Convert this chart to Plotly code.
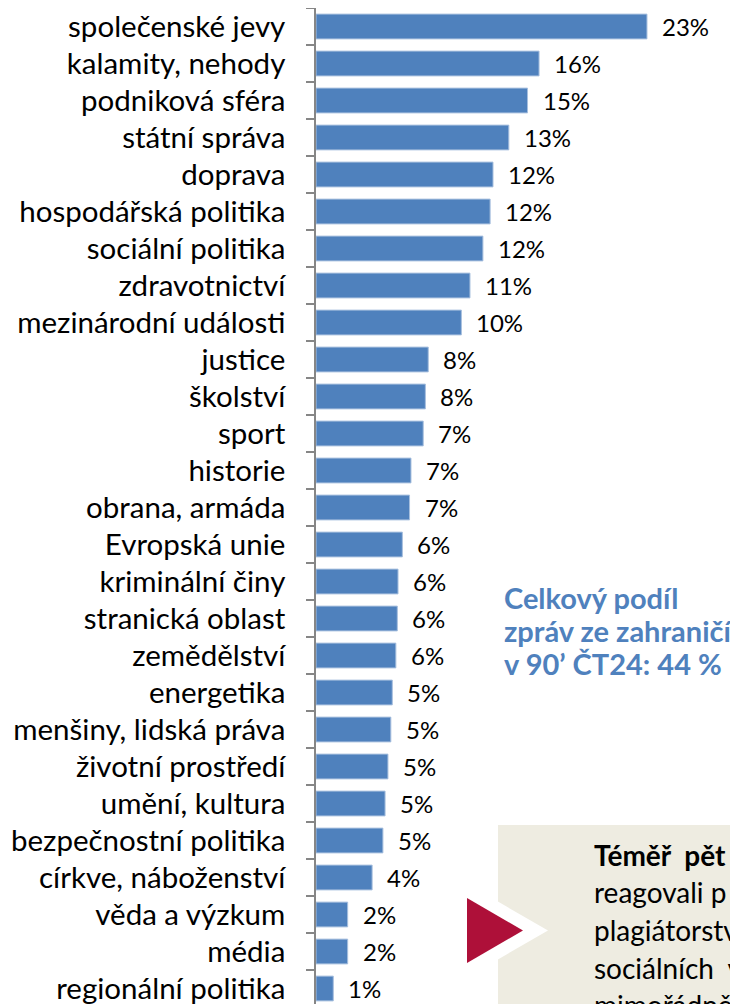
import plotly.graph_objects as go

categories = [
    "společenské jevy", "kalamity, nehody", "podniková sféra", "státní správa",
    "doprava", "hospodářská politika", "sociální politika", "zdravotnictví",
    "mezinárodní události", "justice", "školství", "sport", "historie",
    "obrana, armáda", "Evropská unie", "kriminální činy", "stranická oblast",
    "zemědělství", "energetika", "menšiny, lidská práva", "životní prostředí",
    "umění, kultura", "bezpečnostní politika", "církve, náboženství",
    "věda a výzkum", "média", "regionální politika",
]
values = [23.0, 15.5, 14.7, 13.4, 12.3, 12.1, 11.6, 10.7, 10.1, 7.8, 7.6, 7.45,
          6.6, 6.5, 6.0, 5.7, 5.65, 5.55, 5.3, 5.2, 5.0, 4.8, 4.65, 3.9,
          2.2, 2.2, 1.2]
labels = ["23%", "16%", "15%", "13%", "12%", "12%", "12%", "11%", "10%", "8%",
          "8%", "7%", "7%", "7%", "6%", "6%", "6%", "6%", "5%", "5%", "5%",
          "5%", "5%", "4%", "2%", "2%", "1%"]

# page has an 8px body margin, so the figure is 8px smaller than the window
OFF = 8
W, H = 738 - OFF, 1004 - OFF
ML, MT = 316 - OFF, 8 - OFF
PW, PH = W - ML, H - MT

def px(x):  # window pixel -> paper
    return (x - OFF - ML) / PW

def py(y):
    return (H - (y - OFF)) / PH

FONT = "Lato, Carlito, 'Open Sans', sans-serif"
BLUE = "#4F81BD"

fig = go.Figure()
fig.add_trace(go.Bar(
    x=values, y=categories, orientation="h",
    marker=dict(color=BLUE, line=dict(color="#A7BFDE", width=1)),
    hoverinfo="skip",
))

annotations = []
for c, v, t in zip(categories, values, labels):
    annotations.append(dict(
        x=v, y=c, xref="x", yref="y", text=t, showarrow=False,
        xanchor="left", yanchor="middle", xshift=13,
        font=dict(family=FONT, size=24, color="#000000"),
    ))

# blue side note
note_lines = ["<b>Celkový podíl</b>", "<b>zpráv ze zahraničí</b>", "<b>v 90’ ČT24: 44 %</b>"]
for i, t in enumerate(note_lines):
    annotations.append(dict(
        x=px(502), y=py(597 + i * 33), xref="paper", yref="paper",
        xanchor="left", yanchor="middle", showarrow=False, text=t,
        font=dict(family=FONT, size=29, color=BLUE),
    ))

# text inside beige box (cut off by the page edge)
box_lines = ["<b>Téměř  pět</b>", "reagovali p", "plagiátorstv", "sociálních  v", "mimořádně"]
for i, t in enumerate(box_lines):
    annotations.append(dict(
        x=px(592), y=py(855 + i * 37.5), xref="paper", yref="paper",
        xanchor="left", yanchor="middle", showarrow=False, text=t,
        font=dict(family=FONT, size=28, color="#000000"),
    ))

def path(points):
    return "M " + " L ".join(f"{px(a)},{py(b)}" for a, b in points) + " Z"

shapes = [
    dict(type="rect", xref="paper", yref="paper", x0=px(498), x1=px(760),
         y0=py(825), y1=py(1010), fillcolor="#EEECE1", line=dict(width=0), layer="above"),
    dict(type="path", xref="paper", yref="paper",
         path=path([(455, 930.5 - 53.7), (548, 930.5), (455, 930.5 + 53.7)]),
         fillcolor="#FFFFFF", line=dict(width=0), layer="above"),
    dict(type="path", xref="paper", yref="paper",
         path=path([(467, 898), (523, 930.5), (467, 963)]),
         fillcolor="#AE1039", line=dict(width=0), layer="above"),
]

fig.update_layout(
    width=W, height=H,
    margin=dict(l=ML, r=0, t=MT, b=0, pad=0),
    paper_bgcolor="white", plot_bgcolor="white",
    showlegend=False, bargap=0.33,
    annotations=annotations, shapes=shapes,
    xaxis=dict(range=[0, PW / 14.39], visible=False, fixedrange=True),
    yaxis=dict(
        type="category", categoryorder="array", categoryarray=categories,
        range=[-0.5 + PH / 37.0, -0.5], automargin=False,
        showline=True, linecolor="#868686", linewidth=1.5,
        ticks="outside", tickson="boundaries", ticklen=8, tickcolor="#868686", tickwidth=1.5,
        ticklabelstandoff=23, showgrid=False, zeroline=False,
        tickfont=dict(family=FONT, size=29.5, color="#000000"),
    ),
)

fig.write_html("out.html")
